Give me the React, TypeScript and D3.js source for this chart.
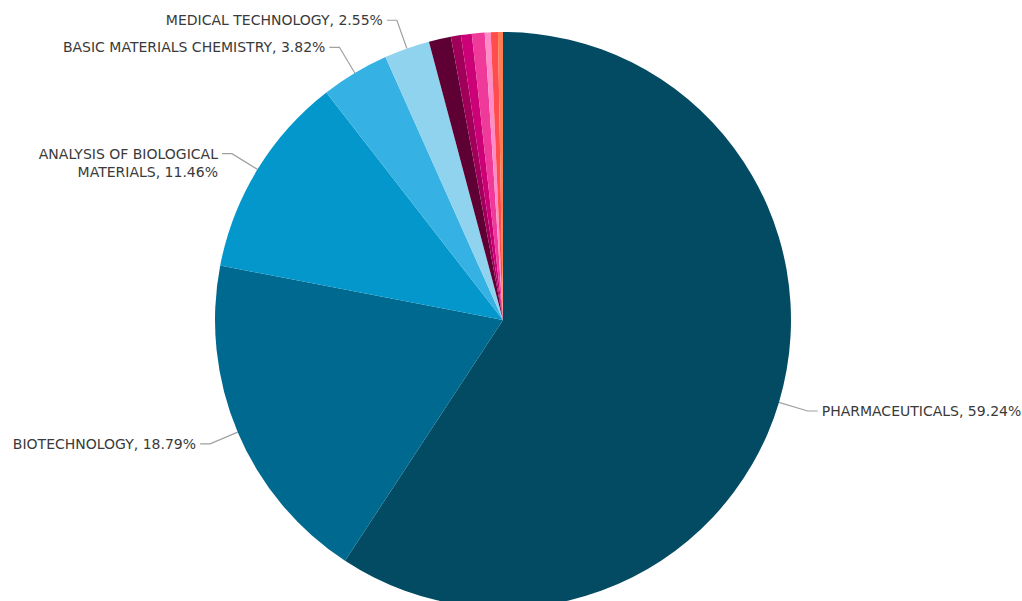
import React from "react";
import * as d3 from "d3";

const categories = [
  "PHARMACEUTICALS",
  "BIOTECHNOLOGY",
  "ANALYSIS OF BIOLOGICAL MATERIALS",
  "BASIC MATERIALS CHEMISTRY",
  "MEDICAL TECHNOLOGY",
  "OTHER 1",
  "OTHER 2",
  "OTHER 3",
  "OTHER 4",
  "OTHER 5",
  "OTHER 6",
  "OTHER 7",
];
const values = [59.24, 18.79, 11.46, 3.82, 2.55, 1.24, 0.56, 0.61, 0.72, 0.33, 0.4, 0.28];
const labelLines: string[][] = [
  ["PHARMACEUTICALS, 59.24%"],
  ["BIOTECHNOLOGY, 18.79%"],
  ["ANALYSIS OF BIOLOGICAL", "MATERIALS, 11.46%"],
  ["BASIC MATERIALS CHEMISTRY, 3.82%"],
  ["MEDICAL TECHNOLOGY, 2.55%"],
  [], [], [], [], [], [], [],
];
const colors = [
  "#034b63",
  "#00698f",
  "#0397cb",
  "#35b2e3",
  "#8fd3ef",
  "#5e0033",
  "#a0005a",
  "#cc0077",
  "#f03a9a",
  "#ff8cc6",
  "#ff4d4d",
  "#ff7d50",
];

const W = 1022;
const H = 601;
const cx = 503;
const cy = 320;
const R = 288;

export default function App() {
  const data = categories.map((c, i) => ({ c, v: values[i], i }));
  const pie = d3.pie<any>().value((d: any) => d.v).sort(null).startAngle(0).endAngle(2 * Math.PI);
  const arcs = pie(data);
  const arc = d3.arc<any>().innerRadius(0).outerRadius(R);

  return (
    <svg width={W} height={H} style={{ position: "absolute", left: 0, top: 0, background: "#fff" }}>
      <g transform={`translate(${cx},${cy})`}>
        {arcs.map((a, i) => (
          <path key={i} d={arc(a) as string} fill={colors[i]} stroke="none" />
        ))}
        {arcs.map((a, i) => {
          const lines = labelLines[i];
          if (!lines.length) return null;
          const mid = (a.startAngle + a.endAngle) / 2;
          const s = Math.sin(mid);
          const c = -Math.cos(mid);
          const x0 = s * R;
          const y0 = c * R;
          const x1 = s * (R + 30);
          const y1 = c * (R + 30);
          const right = s > 0;
          const x2 = x1 + (right ? 10 : -10);
          const tx = x2 + (right ? 4 : -4);
          const lh = 18;
          return (
            <g key={"l" + i}>
              <polyline
                points={`${x0},${y0} ${x1},${y1} ${x2},${y1}`}
                fill="none"
                stroke="#a0a0a0"
                strokeWidth={1.2}
              />
              <text
                x={tx}
                y={y1}
                textAnchor={right ? "start" : "end"}
                fontFamily="DejaVu Sans, Verdana, sans-serif"
                fontSize={14}
                fill="#3a3a3a"
              >
                {lines.map((ln, k) => (
                  <tspan key={k} x={tx} y={y1 + k * lh} dy="0.35em">
                    {ln}
                  </tspan>
                ))}
              </text>
            </g>
          );
        })}
      </g>
    </svg>
  );
}
